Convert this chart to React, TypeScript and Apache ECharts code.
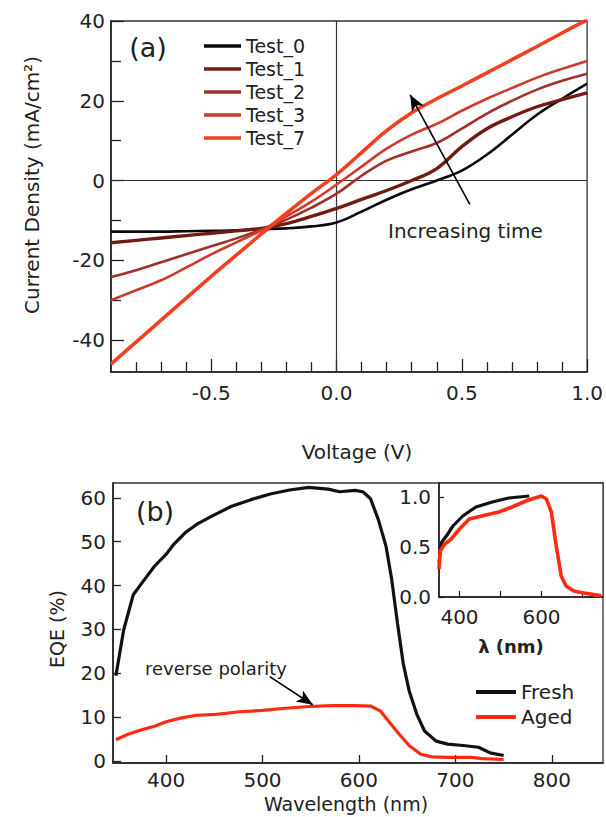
import React, { useEffect, useRef } from "react";
import * as echarts from "echarts";

const FONT = "DejaVu Sans";
const INK = "#222";

// ---------- Panel (a): J-V curves ----------
const VOLTAGE = [-0.9, -0.8, -0.7, -0.6, -0.5, -0.4, -0.3, -0.2, -0.1, 0.0, 0.1, 0.2, 0.3, 0.4, 0.5, 0.6, 0.7, 0.8, 0.9, 1.0];
const TEST_0 = [-12.8, -12.8, -12.8, -12.7, -12.6, -12.5, -12.2, -12.0, -11.5, -10.5, -7.8, -4.8, -2.2, 0, 2.5, 6.5, 11.5, 16.5, 20.5, 24.3];
const TEST_1 = [-15.6, -15.0, -14.4, -13.8, -13.2, -12.6, -12.0, -10.8, -9.0, -7.0, -4.7, -2.5, 0, 3, 8.5, 13, 16, 18.5, 20.3, 22];
const TEST_2 = [-24.2, -22.5, -20.5, -18.5, -16.5, -14.5, -12.3, -9.8, -6.8, -3.3, 1.2, 5, 7.3, 9.4, 13, 16.8, 20, 22.8, 25, 26.8];
const TEST_3 = [-30, -27.5, -25, -21.8, -18.5, -15.5, -12.5, -9, -5.3, -1, 3.5, 8, 11.5, 14.2, 17.5, 20.5, 23.2, 25.8, 28, 30];
const TEST_7 = [-46, -40.5, -35, -29.5, -24, -18.7, -13.4, -8.2, -3.2, 1.5, 7, 12.5, 17, 20.5, 23.7, 27, 30.3, 33.6, 37, 40.3];
const TEST_NAMES = ["Test_0", "Test_1", "Test_2", "Test_3", "Test_7"];
const TEST_COLORS = ["#0a0a0a", "#6e1c14", "#a0302a", "#cc3b2c", "#f0401f"];
const TEST_WIDTHS = [2.6, 3.4, 2.6, 2.6, 3.6];
const VOLT_LABELS = [-0.5, 0, 0.5, 1.0];
const VOLT_MINOR = [-0.8, -0.7, -0.6, -0.4, -0.3, -0.2, -0.1, 0.1, 0.2, 0.3, 0.4, 0.6, 0.7, 0.8, 0.9];
const J_LABELS = [-40, -20, 0, 20, 40];
const J_MINOR = [-30, -10, 10, 30];

// ---------- Panel (b): EQE ----------
const FRESH_WL = [348, 356, 366, 376, 388, 400, 408, 420, 432, 448, 468, 488, 508, 528, 548, 568, 580, 596, 604, 612, 620, 628, 634, 640, 646, 652, 660, 668, 680, 692, 708, 724, 736, 750];
const FRESH_EQE = [19.4, 29.8, 37.9, 40.9, 44.4, 47.1, 49.4, 52.1, 54, 55.9, 58.1, 59.6, 60.9, 61.8, 62.4, 62, 61.4, 61.7, 61.4, 59.8, 55.1, 49, 41.3, 31.3, 22.1, 16, 10.6, 6.8, 4.5, 3.8, 3.5, 3.1, 1.8, 1.2];
const AGED_WL = [348, 360, 372, 388, 400, 416, 432, 452, 476, 500, 524, 548, 572, 596, 612, 622, 632, 642, 652, 664, 676, 692, 716, 728, 750];
const AGED_EQE = [4.8, 6, 6.9, 7.9, 8.9, 9.8, 10.4, 10.6, 11.2, 11.5, 12, 12.4, 12.6, 12.6, 12.5, 11.4, 8.7, 6, 3.5, 1.5, 0.9, 0.8, 0.8, 0.5, 0.3];
const WL_LABELS = [400, 500, 600, 700, 800];
const EQE_LABELS = [0, 10, 20, 30, 40, 50, 60];

// ---------- Inset: normalised EQE ----------
const INSET_FRESH_WL = [350, 356, 368, 384, 408, 440, 480, 520, 545, 570];
const INSET_FRESH = [0.34, 0.545, 0.61, 0.71, 0.81, 0.9, 0.95, 0.99, 1.0, 1.01];
const INSET_AGED_WL = [350, 353, 364, 380, 400, 424, 464, 496, 528, 568, 600, 612, 624, 636, 648, 660, 680, 704, 728, 746];
const INSET_AGED = [0.28, 0.46, 0.53, 0.58, 0.68, 0.78, 0.82, 0.85, 0.9, 0.97, 1.01, 0.98, 0.85, 0.51, 0.21, 0.11, 0.057, 0.04, 0.024, 0.013];
const INSET_X_LABELS = [400, 600];
const INSET_X_TICKS = [400, 500, 600, 700];
const INSET_Y_LABELS = [0, 0.5, 1.0];

const FRESH_COLOR = "#111111";
const AGED_COLOR = "#ff2a12";

const zip = (xs: number[], ys: number[]) => xs.map((x, i) => [x, ys[i]]);

const axisLineStyle = { color: INK, width: 1.6 };
const tickLine = { color: INK, width: 1.3 };
const labelStyle = (size: number, margin: number) => ({ fontFamily: FONT, fontSize: size, color: INK, margin });

function buildOption(): any {
  const testSeries = TEST_NAMES.map((name, i) => {
    const ys = [TEST_0, TEST_1, TEST_2, TEST_3, TEST_7][i];
    const s: any = {
      name,
      type: "line",
      xAxisIndex: 0,
      yAxisIndex: 0,
      data: zip(VOLTAGE, ys),
      smooth: 0.4,
      symbol: "none",
      color: TEST_COLORS[i],
      lineStyle: { color: TEST_COLORS[i], width: TEST_WIDTHS[i] },
      z: 3 + i,
    };
    if (i === 0) {
      s.markLine = {
        silent: true,
        symbol: "none",
        z: 1,
        label: { show: false },
        lineStyle: { color: "#333", width: 1.2, type: "solid" },
        data: [{ xAxis: 0 }, { yAxis: 0 }],
      };
    }
    if (i === 1) {
      s.markLine = {
        silent: true,
        symbol: ["none", "arrow"],
        symbolSize: [10, 16],
        z: 10,
        label: { show: false },
        lineStyle: { color: "#000", width: 1.6, type: "solid" },
        data: [[{ coord: [0.532, -6] }, { coord: [0.294, 21.5] }]],
      };
    }
    return s;
  });

  const legendData = (names: string[], colors: string[]) =>
    names.map((n, i) => ({ name: n, icon: "rect", itemStyle: { color: colors[i] } }));

  return {
    animation: false,
    backgroundColor: "#fff",
    textStyle: { fontFamily: FONT },
    grid: [
      { left: 111, top: 21, width: 479, height: 351, show: true, borderColor: "#333", borderWidth: 1.3, backgroundColor: "transparent" },
      { left: 113, top: 483, width: 490, height: 280, show: true, borderColor: "#333", borderWidth: 1.3, backgroundColor: "transparent" },
      { left: 439, top: 483, width: 164, height: 114, show: true, borderColor: "#333", borderWidth: 1.3, backgroundColor: "#fff" },
    ],
    xAxis: [
      {
        gridIndex: 0, type: "value", min: -0.9, max: 1.0, position: "bottom",
        axisLine: { show: true, onZero: false, lineStyle: axisLineStyle },
        axisTick: { show: true, inside: true, length: 13, customValues: VOLT_LABELS, lineStyle: tickLine },
        axisLabel: { ...labelStyle(20, 11), customValues: VOLT_LABELS, formatter: (v: number) => v.toFixed(1) },
        splitLine: { show: false },
      },
      {
        gridIndex: 0, type: "value", min: -0.9, max: 1.0, position: "bottom",
        axisLine: { show: false, onZero: false },
        axisTick: { show: true, inside: true, length: 10, customValues: VOLT_MINOR, lineStyle: tickLine },
        axisLabel: { show: false },
        splitLine: { show: false },
      },
      {
        gridIndex: 1, type: "value", min: 345, max: 853, position: "bottom",
        axisLine: { show: true, onZero: false, lineStyle: axisLineStyle },
        axisTick: { show: true, inside: true, length: 8, customValues: WL_LABELS, lineStyle: tickLine },
        axisLabel: { ...labelStyle(20, 7), customValues: WL_LABELS },
        splitLine: { show: false },
      },
      {
        gridIndex: 2, type: "value", min: 350, max: 750, position: "bottom",
        axisLine: { show: true, onZero: false, lineStyle: axisLineStyle },
        axisTick: { show: true, inside: true, length: 6, customValues: INSET_X_TICKS, lineStyle: tickLine },
        axisLabel: { ...labelStyle(20, 10), customValues: INSET_X_LABELS },
        splitLine: { show: false },
      },
    ],
    yAxis: [
      {
        gridIndex: 0, type: "value", min: -48, max: 40, position: "left",
        axisLine: { show: true, onZero: false, lineStyle: axisLineStyle },
        axisTick: { show: true, inside: true, length: 13, customValues: J_LABELS, lineStyle: tickLine },
        axisLabel: { ...labelStyle(20, 6), customValues: J_LABELS },
        splitLine: { show: false },
      },
      {
        gridIndex: 0, type: "value", min: -48, max: 40, position: "left",
        axisLine: { show: false, onZero: false },
        axisTick: { show: true, inside: true, length: 10, customValues: J_MINOR, lineStyle: tickLine },
        axisLabel: { show: false },
        splitLine: { show: false },
      },
      {
        gridIndex: 1, type: "value", min: -0.5, max: 63.4, position: "left",
        axisLine: { show: true, onZero: false, lineStyle: axisLineStyle },
        axisTick: { show: true, inside: true, length: 8, customValues: EQE_LABELS, lineStyle: tickLine },
        axisLabel: { ...labelStyle(20, 7), customValues: EQE_LABELS },
        splitLine: { show: false },
      },
      {
        gridIndex: 2, type: "value", min: 0, max: 1.14, position: "left",
        axisLine: { show: true, onZero: false, lineStyle: axisLineStyle },
        axisTick: { show: true, inside: true, length: 5, customValues: INSET_Y_LABELS, lineStyle: tickLine },
        axisLabel: { ...labelStyle(20, 8), customValues: INSET_Y_LABELS, formatter: (v: number) => v.toFixed(1) },
        splitLine: { show: false },
      },
    ],
    legend: [
      {
        data: legendData(TEST_NAMES, TEST_COLORS),
        orient: "vertical",
        left: 199,
        top: 29.5,
        itemWidth: 37,
        itemHeight: 3.5,
        itemGap: 0,
        selectedMode: false,
        textStyle: { fontFamily: FONT, fontSize: 19, color: INK, lineHeight: 23 },
      },
      {
        data: legendData(["Fresh", "Aged"], [FRESH_COLOR, AGED_COLOR]),
        orient: "vertical",
        left: 471,
        top: 674.5,
        itemWidth: 40,
        itemHeight: 4,
        itemGap: 0,
        selectedMode: false,
        textStyle: { fontFamily: FONT, fontSize: 20, color: INK, lineHeight: 25 },
      },
    ],
    series: [
      ...testSeries,
      {
        name: "Fresh", type: "line", xAxisIndex: 2, yAxisIndex: 2,
        data: zip(FRESH_WL, FRESH_EQE), symbol: "none", color: FRESH_COLOR,
        lineStyle: { color: FRESH_COLOR, width: 3.2 }, z: 3,
      },
      {
        name: "Aged", type: "line", xAxisIndex: 2, yAxisIndex: 2,
        data: zip(AGED_WL, AGED_EQE), symbol: "none", color: AGED_COLOR,
        lineStyle: { color: AGED_COLOR, width: 3.2 }, z: 4,
        markLine: {
          silent: true,
          symbol: ["none", "arrow"],
          symbolSize: [10, 16],
          z: 10,
          label: { show: false },
          lineStyle: { color: "#000", width: 1.6, type: "solid" },
          data: [[{ coord: [507.5, 19.2] }, { coord: [552, 12.8] }]],
        },
      },
      {
        name: "Fresh (norm.)", type: "line", xAxisIndex: 3, yAxisIndex: 3,
        data: zip(INSET_FRESH_WL, INSET_FRESH), symbol: "none",
        lineStyle: { color: FRESH_COLOR, width: 3.2 }, z: 5,
      },
      {
        name: "Aged (norm.)", type: "line", xAxisIndex: 3, yAxisIndex: 3,
        data: zip(INSET_AGED_WL, INSET_AGED), symbol: "none",
        lineStyle: { color: AGED_COLOR, width: 3.6 }, z: 6,
      },
    ],
    graphic: [
      { type: "text", x: 148, y: 47, style: { text: "(a)", font: `27px '${FONT}'`, fill: INK, align: "center", verticalAlign: "middle" } },
      { type: "text", x: 155, y: 511, style: { text: "(b)", font: `27px '${FONT}'`, fill: INK, align: "center", verticalAlign: "middle" } },
      { type: "text", x: 388, y: 231, style: { text: "Increasing time", font: `20px '${FONT}'`, fill: INK, align: "left", verticalAlign: "middle" } },
      { type: "text", x: 145, y: 668, style: { text: "reverse polarity", font: `18px '${FONT}'`, fill: INK, align: "left", verticalAlign: "middle" } },
      { type: "text", x: 357, y: 452, style: { text: "Voltage (V)", font: `20px '${FONT}'`, fill: INK, align: "center", verticalAlign: "middle" } },
      { type: "text", x: 346, y: 804, style: { text: "Wavelength (nm)", font: `19px '${FONT}'`, fill: INK, align: "center", verticalAlign: "middle" } },
      { type: "text", x: 511, y: 646, style: { text: "λ (nm)", font: `bold 18px '${FONT}'`, fill: INK, align: "center", verticalAlign: "middle" } },
      { type: "text", x: 32, y: 185, rotation: Math.PI / 2, style: { text: "Current Density (mA/cm²)", font: `20px '${FONT}'`, fill: INK, align: "center", verticalAlign: "middle" } },
      { type: "text", x: 57, y: 629, rotation: Math.PI / 2, style: { text: "EQE (%)", font: `19px '${FONT}'`, fill: INK, align: "center", verticalAlign: "middle" } },
    ],
  };
}

export default function App() {
  const ref = useRef<HTMLDivElement>(null);
  useEffect(() => {
    document.body.style.margin = "0";
    if (!ref.current) return;
    const chart = echarts.init(ref.current, null, { renderer: "svg" });
    chart.setOption(buildOption());
    return () => chart.dispose();
  }, []);
  return <div ref={ref} style={{ width: 606, height: 817 }} />;
}
